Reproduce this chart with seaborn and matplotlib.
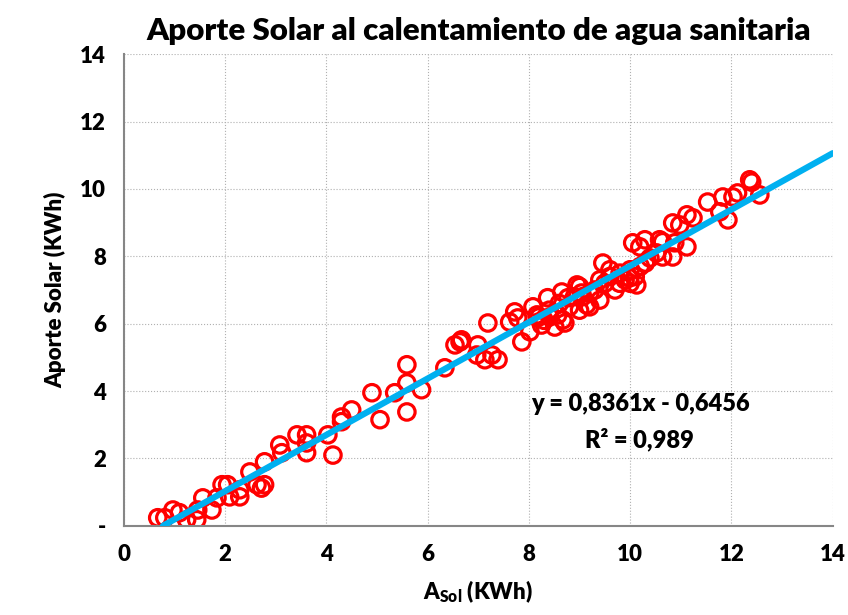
import matplotlib
matplotlib.use('Agg')
import matplotlib.pyplot as plt
import seaborn as sns
import numpy as np
import pandas as pd

# datos (A_Sol vs aporte solar, KWh)
a_sol = [
    0.67, 0.81, 0.97, 1.10, 1.24, 1.44, 1.46, 1.56, 1.74, 1.84,
    1.94, 2.05, 2.09, 2.29, 2.29, 2.49, 2.63, 2.78, 2.78, 3.08,
    3.12, 3.42, 3.61, 3.61, 3.61, 4.03, 4.13, 4.30, 4.30, 4.50,
    4.90, 5.06, 5.35, 5.59, 5.59, 5.59, 5.88, 6.34, 6.54, 6.64,
    6.67, 6.99, 6.97, 7.13, 7.27, 7.39, 7.19, 7.62, 7.72, 7.78,
    7.86, 8.02, 8.08, 8.16, 8.25, 8.37, 8.41, 8.51, 8.57, 8.65,
    8.71, 8.77, 8.95, 9.04, 9.14, 8.67, 9.00, 9.06, 9.20, 9.46,
    9.40, 9.60, 9.79, 9.99, 10.05, 10.19, 10.29, 10.39, 10.58, 10.64,
    10.84, 10.88, 10.98, 11.12, 10.13, 10.52, 10.64, 10.84, 11.12, 11.24,
    11.53, 11.77, 11.83, 11.93, 12.03, 12.12, 12.36, 12.40, 12.56, 9.30,
    9.50, 9.60, 9.80, 9.90, 10.00, 10.10, 10.20, 10.30, 10.00, 9.70,
    9.20, 9.40, 8.90, 8.80, 8.60, 8.40, 9.00, 8.30, 8.20, 2.72,
]
aporte = [
    0.24, 0.24, 0.47, 0.39, 0.18, 0.18, 0.47, 0.83, 0.47, 0.83,
    1.22, 1.22, 0.86, 0.86, 1.07, 1.60, 1.22, 1.22, 1.90, 2.40,
    2.17, 2.70, 2.70, 2.17, 2.46, 2.70, 2.10, 3.23, 3.09, 3.44,
    3.95, 3.15, 3.95, 4.78, 4.24, 3.38, 4.04, 4.69, 5.37, 5.46,
    5.52, 5.37, 5.07, 4.93, 5.07, 4.93, 6.02, 6.05, 6.35, 6.17,
    5.46, 5.76, 6.50, 6.26, 5.96, 6.77, 6.20, 5.90, 6.26, 6.94,
    6.02, 6.77, 7.15, 6.91, 6.56, 6.11, 7.10, 6.80, 6.50, 7.80,
    6.70, 7.40, 7.20, 7.36, 8.40, 8.28, 8.49, 7.95, 8.49, 7.98,
    7.98, 8.40, 8.93, 8.28, 7.15, 8.10, 8.43, 8.99, 9.23, 9.14,
    9.61, 9.32, 9.76, 9.08, 9.76, 9.88, 10.27, 10.20, 9.82, 7.00,
    7.20, 7.60, 7.50, 7.30, 7.60, 7.40, 7.70, 7.80, 7.20, 7.00,
    6.90, 7.30, 6.80, 6.50, 6.60, 6.40, 6.40, 6.10, 6.20, 1.12,
]

# coeficientes de la línea de tendencia
pendiente = 0.8361
ordenada = -0.6456
r2 = 0.989

x_ticks = [0, 2, 4, 6, 8, 10, 12, 14]
y_ticks = [0, 2, 4, 6, 8, 10, 12, 14]
y_tick_labels = ['-', '2', '4', '6', '8', '10', '12', '14']

df = pd.DataFrame({'a_sol': a_sol, 'aporte': aporte})

sns.set_style('white')
plt.rcParams['font.family'] = ['Lato', 'DejaVu Sans']
plt.rcParams['font.weight'] = 'heavy'
plt.rcParams['text.color'] = 'black'
plt.rcParams['axes.labelcolor'] = 'black'
plt.rcParams['xtick.labelcolor'] = 'black'
plt.rcParams['ytick.labelcolor'] = 'black'
plt.rcParams['mathtext.fontset'] = 'custom'
plt.rcParams['mathtext.rm'] = 'Lato:heavy'
plt.rcParams['mathtext.it'] = 'Lato:heavy'
plt.rcParams['mathtext.bf'] = 'Lato:heavy'

fig = plt.figure(figsize=(8.48, 6.15), dpi=100)
ax = fig.add_axes([0.146, 0.145, 0.836, 0.767])

# línea de tendencia
x_lin = np.array([-ordenada / pendiente, 14])
ax.plot(x_lin, pendiente * x_lin + ordenada, color='#00B0F0', linewidth=4.5, zorder=3)

# puntos
sns.scatterplot(data=df, x='a_sol', y='aporte', ax=ax, marker='o', s=140,
                facecolors='none', edgecolor='#FF0000', linewidth=2.3, zorder=2)

ax.set_xlim(0, 14)
ax.set_ylim(0, 14)
ax.set_xticks(x_ticks)
ax.set_yticks(y_ticks)
ax.set_yticklabels(y_tick_labels)
ax.tick_params(axis='both', labelsize=16, direction='out', length=5, width=1,
               color='#868686', labelcolor='black', pad=8)
for lab in ax.get_xticklabels() + ax.get_yticklabels():
    lab.set_fontweight('heavy')

ax.grid(True, color='#B0B0B0', linestyle=':', linewidth=0.8)
for s in ['top', 'right']:
    ax.spines[s].set_visible(False)
for s in ['left', 'bottom']:
    ax.spines[s].set_color('#868686')
    ax.spines[s].set_linewidth(1.5)

ax.set_title('Aporte Solar al calentamiento de agua sanitaria', fontsize=22.5,
             fontweight='heavy', pad=10, color='black')
ax.set_xlabel(r'$\mathrm{A_{Sol}}$ (KWh)', fontsize=16, fontweight='heavy', labelpad=10)
ax.set_ylabel('Aporte Solar (KWh)', fontsize=16, fontweight='heavy', labelpad=10)

ax.text(0.728, 0.259, 'y = 0,8361x - 0,6456', transform=ax.transAxes, fontsize=17,
        fontweight='heavy', ha='center', va='center', color='black')
ax.text(0.728, 0.183, 'R² = 0,989', transform=ax.transAxes, fontsize=17,
        fontweight='heavy', ha='center', va='center', color='black')

fig.savefig('out.png', dpi=100, facecolor='white')
